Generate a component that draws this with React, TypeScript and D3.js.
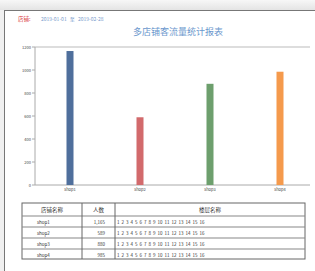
import { useEffect, useRef } from "react"
import * as d3 from "d3"

// chart data
const shops = ["shop1", "shop2", "shop3", "shop4"]
const visitors = [1165, 589, 880, 985]
const barColors = ["#4f6f9c", "#d26a6c", "#6d9f6d", "#f59a4c"]
const yTicks = [0, 200, 400, 600, 800, 1000, 1200]
const floors = ["1", "2", "3", "4", "5", "6", "7", "8", "9", "10", "11", "12", "13", "14", "15", "16"]
const tableHeaders = ["店铺名称", "人数", "楼层名称"]

const W = 315
const H = 271

const App = () => {
  const svgRef = useRef<SVGSVGElement>(null)

  useEffect(() => {
    if (!svgRef.current) return
    const svg = d3.select(svgRef.current)
    svg.selectAll("*").remove()

    const font = "'Noto Sans CJK SC', 'Noto Sans', sans-serif"

    // page frame
    const defs = svg.append("defs")
    const grad = defs.append("linearGradient").attr("id", "shade").attr("x1", 0).attr("x2", 0).attr("y1", 0).attr("y2", 1)
    grad.append("stop").attr("offset", "0%").attr("stop-color", "#f7f7f7")
    grad.append("stop").attr("offset", "100%").attr("stop-color", "#e4e4e4")
    svg.append("rect").attr("x", 0).attr("y", 0).attr("width", W).attr("height", 10).attr("fill", "url(#shade)")
    svg.append("rect").attr("x", 0).attr("y", 10).attr("width", 4).attr("height", H - 10).attr("fill", "#f0f0f0")
    svg.append("line").attr("x1", 4).attr("x2", W).attr("y1", 10.5).attr("y2", 10.5).attr("stroke", "#777").attr("stroke-width", 1)
    svg.append("line").attr("x1", 4.5).attr("x2", 4.5).attr("y1", 10).attr("y2", H).attr("stroke", "#777").attr("stroke-width", 1)

    // header
    svg.append("text").attr("x", 18).attr("y", 21).attr("font-size", 5.5).attr("fill", "#d9363e").attr("font-family", font).text("店铺:")
    svg.append("text").attr("x", 41).attr("y", 21).attr("font-size", 5).attr("fill", "#7a9ccc").attr("font-family", font)
      .attr("word-spacing", 2).text("2019-01-01 至 2019-02-28")
    svg.append("text").attr("x", 178).attr("y", 35).attr("text-anchor", "middle").attr("font-size", 9)
      .attr("fill", "#6b97cd").attr("font-family", font).text("多店铺客流量统计报表")

    // chart
    const x = d3.scaleBand().domain(shops).range([35, 315])
    const y = d3.scaleLinear().domain([0, 1200]).range([185, 47])

    const g = svg.append("g")
    g.append("line").attr("x1", 35).attr("x2", 310).attr("y1", y(1200)).attr("y2", y(1200)).attr("stroke", "#bbb")
    g.append("line").attr("x1", 35).attr("x2", 310).attr("y1", y(0)).attr("y2", y(0)).attr("stroke", "#aaa")
    g.append("line").attr("x1", 35).attr("x2", 35).attr("y1", y(0)).attr("y2", y(1200)).attr("stroke", "#aaa")

    g.selectAll("line.tick").data(yTicks).join("line").attr("class", "tick")
      .attr("x1", 32).attr("x2", 35).attr("y1", (d) => y(d)).attr("y2", (d) => y(d)).attr("stroke", "#aaa")
    g.selectAll("text.ytick").data(yTicks).join("text").attr("class", "ytick")
      .attr("x", 31).attr("y", (d) => y(d) + 1.5).attr("text-anchor", "end").attr("font-size", 4)
      .attr("fill", "#444").attr("font-family", font).text((d) => d)

    g.selectAll("rect.bar").data(visitors).join("rect").attr("class", "bar")
      .attr("x", (_, i) => x(shops[i])! + x.bandwidth() / 2 - 3.5)
      .attr("width", 7)
      .attr("y", (d) => y(d))
      .attr("height", (d) => y(0) - y(d))
      .attr("fill", (_, i) => barColors[i])

    g.selectAll("text.xtick").data(shops).join("text").attr("class", "xtick")
      .attr("x", (d) => x(d)! + x.bandwidth() / 2).attr("y", 191).attr("text-anchor", "middle")
      .attr("font-size", 4).attr("fill", "#444").attr("font-family", font).text((d) => d)

    // table
    const cols = [22, 82, 115, 305]
    const rows = [203, 216, 227, 238, 249, 259]
    const t = svg.append("g")
    t.append("rect").attr("x", cols[0]).attr("y", rows[0]).attr("width", cols[3] - cols[0]).attr("height", rows[5] - rows[0])
      .attr("fill", "none").attr("stroke", "#666").attr("stroke-width", 1)
    rows.slice(1, -1).forEach((r) => {
      t.append("line").attr("x1", cols[0]).attr("x2", cols[3]).attr("y1", r).attr("y2", r).attr("stroke", "#888").attr("stroke-width", 1.2)
    })
    cols.slice(1, -1).forEach((c) => {
      t.append("line").attr("x1", c).attr("x2", c).attr("y1", rows[0]).attr("y2", rows[5]).attr("stroke", "#666")
    })
    tableHeaders.forEach((h, i) => {
      t.append("text").attr("x", (cols[i] + cols[i + 1]) / 2).attr("y", 212).attr("text-anchor", "middle")
        .attr("font-size", 5.5).attr("fill", "#333").attr("font-family", font).text(h)
    })
    shops.forEach((s, i) => {
      const ty = rows[i + 1] + 7.5
      t.append("text").attr("x", 37).attr("y", ty).attr("font-size", 4.5).attr("fill", "#333").attr("font-family", font).text(s)
      t.append("text").attr("x", 105).attr("y", ty).attr("text-anchor", "end").attr("font-size", 4.5)
        .attr("fill", "#333").attr("font-family", font).text(d3.format(",")(visitors[i]))
      t.append("text").attr("x", 117).attr("y", ty).attr("font-size", 4.5).attr("fill", "#333")
        .attr("font-family", font).attr("word-spacing", 1).text(floors.join(" "))
    })
  }, [])

  return (
    <svg
      ref={svgRef}
      width={W}
      height={H}
      style={{ position: "fixed", left: 0, top: 0, background: "#fff" }}
    />
  )
}

export default App
